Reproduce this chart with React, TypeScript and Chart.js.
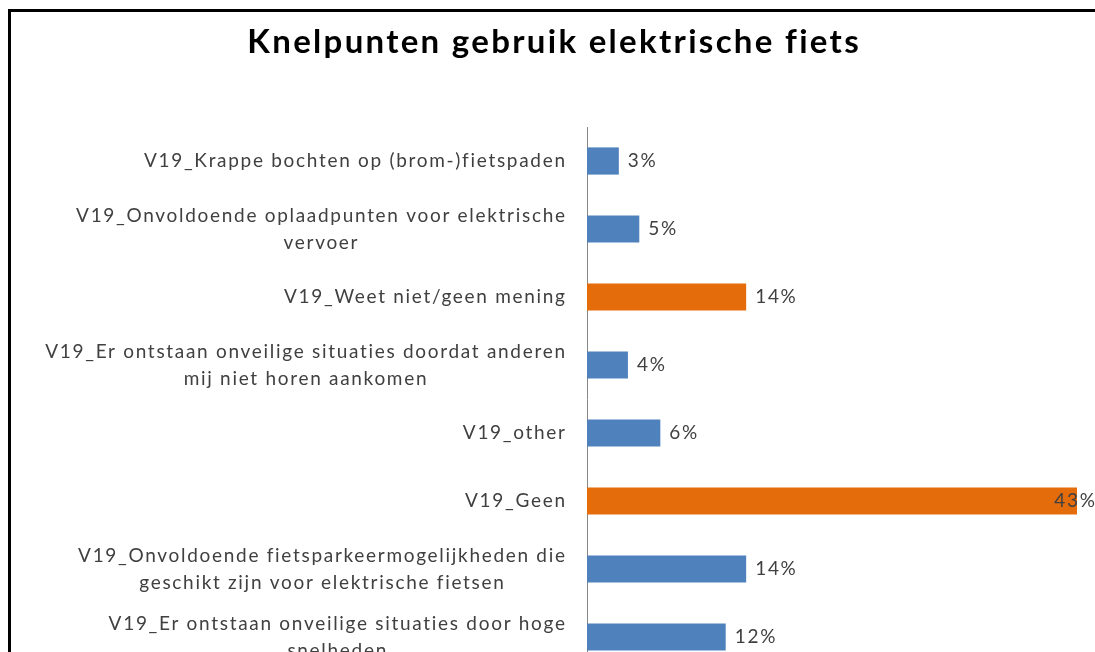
import React, { useEffect, useRef } from 'react';
import { Chart, registerables } from 'chart.js';

Chart.register(...registerables);

const TITLE = 'Knelpunten gebruik elektrische fiets';

const categories: string[][] = [
  ['V19_Krappe bochten op (brom-)fietspaden'],
  ['V19_Onvoldoende oplaadpunten voor elektrische', 'vervoer'],
  ['V19_Weet niet/geen mening'],
  ['V19_Er ontstaan onveilige situaties doordat anderen', 'mij niet horen aankomen'],
  ['V19_other'],
  ['V19_Geen'],
  ['V19_Onvoldoende fietsparkeermogelijkheden die', 'geschikt zijn voor elektrische fietsen'],
  ['V19_Er ontstaan onveilige situaties door hoge', 'snelheden'],
];

const values: number[] = [2.8, 4.6, 14.0, 3.6, 6.45, 43.1, 14.0, 12.2];
const highlighted: boolean[] = [false, false, true, false, false, true, false, false];

const BLUE = '#4F81BD';
const ORANGE = '#E46C0A';
const TEXT = '#404040';
const LABEL_FONT = '19px Lato';
const LABEL_SPACING = 1.7;
const TITLE_FONT = 'bold 33px Lato';
const TITLE_SPACING = 2.3;
const LINE_H = 27;

function textWidth(ctx: CanvasRenderingContext2D, s: string, spacing: number) {
  return ctx.measureText(s).width - spacing;
}

const labelPlugin = {
  id: 'customLabels',
  afterDraw(chart: any) {
    const ctx: CanvasRenderingContext2D = chart.ctx;
    const yScale = chart.scales.y;
    ctx.save();
    // title
    ctx.font = TITLE_FONT;
    (ctx as any).letterSpacing = TITLE_SPACING + 'px';
    ctx.fillStyle = '#000000';
    ctx.textBaseline = 'alphabetic';
    ctx.textAlign = 'left';
    const tw = textWidth(ctx, TITLE, TITLE_SPACING);
    ctx.fillText(TITLE, chart.width / 2 - tw / 2, 41);

    // category labels
    ctx.font = LABEL_FONT;
    (ctx as any).letterSpacing = LABEL_SPACING + 'px';
    ctx.fillStyle = TEXT;
    ctx.textBaseline = 'middle';
    const rightX = yScale.right - 22;
    categories.forEach((lines, i) => {
      const y = yScale.getPixelForValue(i);
      const widths = lines.map((l) => textWidth(ctx, l, LABEL_SPACING));
      const maxW = Math.max(...widths);
      const cx = rightX - maxW / 2;
      lines.forEach((l, j) => {
        const ty = y + (j - (lines.length - 1) / 2) * LINE_H;
        ctx.fillText(l, cx - widths[j] / 2, ty);
      });
    });
    // data labels
    const meta = chart.getDatasetMeta(0);
    meta.data.forEach((el: any, i: number) => {
      const txt = Math.round(values[i]) + '%';
      const w = textWidth(ctx, txt, LABEL_SPACING);
      let x = el.x + 9;
      if (x + w > chart.width) x = chart.width - w;
      ctx.fillText(txt, x, el.y);
    });
    ctx.restore();
  },
};

export default function App() {
  const ref = useRef<HTMLCanvasElement>(null);
  useEffect(() => {
    if (!ref.current) return;
    const chart = new Chart(ref.current, {
      type: 'bar',
      data: {
        labels: categories.map((c) => c.join(' ')),
        datasets: [
          {
            data: values,
            backgroundColor: highlighted.map((h) => (h ? ORANGE : BLUE)),
            borderWidth: 0,
            categoryPercentage: 0.4,
            barPercentage: 1,
          },
        ],
      },
      options: {
        indexAxis: 'y',
        animation: false,
        responsive: true,
        maintainAspectRatio: false,
        layout: { padding: { left: 0, right: 18, top: 115, bottom: 10 } },
        plugins: {
          legend: { display: false },
          tooltip: { enabled: false },
          title: { display: false },
        },
        scales: {
          x: { display: false, min: 0, max: 43.1 },
          y: {
            type: 'category',
            position: 'left',
            grid: { display: false },
            border: { display: true, color: '#868686', width: 1 },
            ticks: { display: false },
            afterFit: (s: any) => {
              s.width = 576;
            },
          },
        },
      },
      plugins: [labelPlugin],
    });
    return () => chart.destroy();
  }, []);

  return (
    <div style={{ position: 'fixed', inset: 0, overflow: 'hidden', background: '#fff' }}>
      <div
        style={{
          position: 'absolute',
          left: 8,
          top: 9,
          border: '3px solid #000',
          width: 1084,
          height: 680,
          background: '#fff',
        }}
      >
        <div style={{ position: 'relative', width: 1084, height: 669 }}>
          <canvas ref={ref} />
        </div>
      </div>
    </div>
  );
}
